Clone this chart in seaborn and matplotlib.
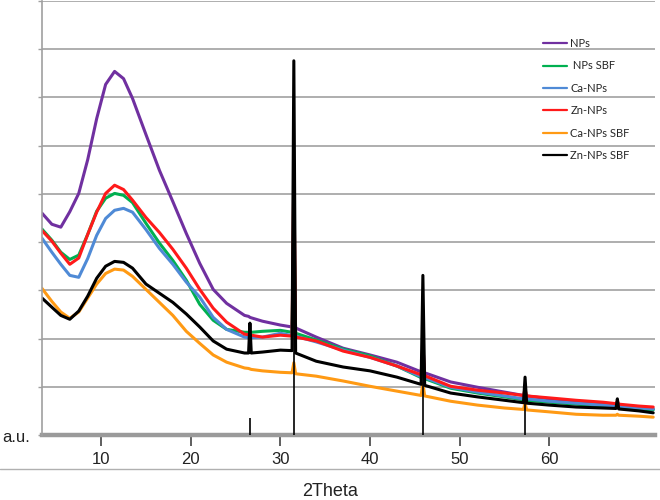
import numpy as np
import pandas as pd
import matplotlib
matplotlib.use("Agg")
import matplotlib.pyplot as plt
import seaborn as sns
from matplotlib.lines import Line2D

# ---------------- data ----------------
two_theta = [3.4, 4.5, 5.5, 6.5, 7.5, 8.5, 9.5, 10.5, 11.5, 12.5, 13.5, 15, 16.5, 18,
             19.5, 21, 22.5, 24, 26, 26.45, 26.6, 26.75, 28, 30, 31.3, 31.5, 31.7, 34,
             37, 40, 43, 45.7, 45.9, 46.1, 49, 52, 55, 57.12, 57.3, 57.48, 60, 63, 66,
             67.45, 67.6, 67.75, 70, 71.6]

nps = [4.60, 4.37, 4.31, 4.63, 5.01, 5.71, 6.56, 7.27, 7.54, 7.39, 6.98, 6.23, 5.49, 4.84,
       4.18, 3.56, 3.02, 2.73, 2.48, 2.46, 2.44, 2.43, 2.36, 2.28, 2.24, 2.80, 2.22, 2.03,
       1.80, 1.66, 1.51, 1.31, 1.50, 1.29, 1.10, 0.99, 0.89, 0.82, 0.86, 0.81, 0.75, 0.70,
       0.66, 0.63, 0.65, 0.62, 0.58, 0.54]

nps_sbf = [4.27, 4.04, 3.79, 3.64, 3.73, 4.16, 4.64, 4.91, 5.01, 4.97, 4.82, 4.39, 3.98, 3.62,
           3.21, 2.71, 2.38, 2.19, 2.13, 2.13, 2.13, 2.13, 2.15, 2.17, 2.13, 4.50, 2.11, 1.97,
           1.78, 1.64, 1.43, 1.19, 1.55, 1.17, 0.97, 0.87, 0.79, 0.73, 0.90, 0.72, 0.68, 0.64,
           0.60, 0.58, 0.60, 0.58, 0.54, 0.52]

ca_nps = [4.08, 3.79, 3.54, 3.31, 3.27, 3.66, 4.14, 4.49, 4.66, 4.70, 4.62, 4.26, 3.87, 3.54,
          3.17, 2.86, 2.44, 2.19, 2.03, 2.02, 2.01, 2.02, 2.03, 2.11, 2.06, 4.00, 2.05, 1.93,
          1.76, 1.61, 1.43, 1.21, 1.90, 1.19, 0.99, 0.89, 0.81, 0.75, 0.88, 0.75, 0.70, 0.66,
          0.62, 0.60, 0.62, 0.60, 0.56, 0.54]

zn_nps = [4.24, 4.02, 3.77, 3.54, 3.67, 4.16, 4.62, 5.01, 5.18, 5.09, 4.87, 4.51, 4.20, 3.85,
          3.46, 3.02, 2.63, 2.34, 2.09, 2.08, 2.07, 2.07, 2.03, 2.07, 2.05, 5.50, 2.03, 1.95,
          1.74, 1.61, 1.43, 1.25, 1.90, 1.23, 1.01, 0.93, 0.87, 0.82, 0.95, 0.81, 0.77, 0.72,
          0.68, 0.65, 0.70, 0.64, 0.60, 0.58]

ca_nps_sbf = [3.04, 2.77, 2.55, 2.42, 2.55, 2.84, 3.13, 3.35, 3.44, 3.42, 3.29, 3.02, 2.75, 2.48,
              2.15, 1.90, 1.66, 1.51, 1.39, 1.38, 1.37, 1.36, 1.33, 1.30, 1.29, 1.50, 1.27, 1.22,
              1.12, 1.01, 0.91, 0.82, 1.08, 0.81, 0.70, 0.62, 0.56, 0.53, 0.66, 0.52, 0.48, 0.43,
              0.41, 0.41, 0.43, 0.41, 0.39, 0.37]

zn_nps_sbf = [2.84, 2.65, 2.48, 2.40, 2.57, 2.88, 3.25, 3.50, 3.60, 3.58, 3.46, 3.13, 2.94, 2.75,
              2.51, 2.24, 1.95, 1.78, 1.70, 1.70, 2.32, 1.70, 1.72, 1.76, 1.75, 7.76, 1.70, 1.53,
              1.41, 1.33, 1.20, 1.05, 3.31, 1.03, 0.87, 0.79, 0.72, 0.67, 1.20, 0.66, 0.62, 0.58,
              0.56, 0.55, 0.75, 0.54, 0.50, 0.46]

sample_names = ["NPs", " NPs SBF", "Ca-NPs", "Zn-NPs", "Ca-NPs SBF", "Zn-NPs SBF"]
sample_colors = ["#7030A0", "#00B050", "#4F8AD6", "#FF1A1A", "#FF9A14", "#000000"]

stick_pos = [26.6, 31.5, 45.9, 57.3]
stick_height = [0.35, 7.76, 3.31, 1.20]

x_ticks = [10, 20, 30, 40, 50, 60]

# ---------------- build table ----------------
series = [nps, nps_sbf, ca_nps, zn_nps, ca_nps_sbf, zn_nps_sbf]
df = pd.concat(
    [pd.DataFrame({"2Theta": two_theta, "a.u.": vals, "sample": name})
     for name, vals in zip(sample_names, series)],
    ignore_index=True)

sns.set_style("white")
plt.rcParams["font.family"] = ["Liberation Sans", "DejaVu Sans"]

fig = plt.figure(figsize=(6.6, 5.0), dpi=100)
ax = fig.add_axes([42 / 660, 1 - 435 / 500, 613 / 660, 434 / 500])

sns.lineplot(data=df, x="2Theta", y="a.u.", hue="sample", hue_order=sample_names,
             palette=sample_colors, sort=False, estimator=None, linewidth=2.2, ax=ax)

ax.vlines(stick_pos, -0.08, stick_height, color="black", lw=1.2, zorder=6)

ax.set_xlim(3.4, 71.8)
ax.set_ylim(0, 9)
ax.set_xticks(x_ticks)
ax.set_xticklabels([str(t) for t in x_ticks])
ax.set_yticks(range(10))
ax.set_yticklabels([])
ax.set_xlabel("")
ax.set_ylabel("")
ax.grid(axis="y", color="#A8A8A8", lw=1.3)
ax.grid(axis="x", visible=False)
ax.set_axisbelow(True)

for s in ["top", "right"]:
    ax.spines[s].set_visible(False)
ax.spines["left"].set_color("#A0A0A0")
ax.spines["left"].set_linewidth(1.2)
ax.spines["bottom"].set_color("#9A9A9A")
ax.spines["bottom"].set_linewidth(3.2)
ax.spines["bottom"].set_zorder(1)

ax.tick_params(axis="y", left=True, length=3, width=1, color="#A0A0A0", direction="out")
ax.tick_params(axis="x", bottom=True, length=8, width=1.1, color="#333333",
               direction="out", labelsize=12, pad=4, labelcolor="#222222")

# legend
handles, labels = ax.get_legend_handles_labels()
leg = ax.legend(handles, labels, loc="upper left", bbox_to_anchor=(543 / 660, 1 - 38 / 500),
                bbox_transform=fig.transFigure, frameon=False, borderpad=0, borderaxespad=0,
                handlelength=2.2, handletextpad=0.25, labelspacing=1.03,
                prop={"family": "Lato", "size": 8})
for lh in leg.get_lines():
    lh.set_linewidth(1.6)

fig.text(30 / 660, 1 - 437 / 500, "a.u.", ha="right", va="center", fontsize=12,
         color="#222222")
fig.text(330 / 660, 1 - 491 / 500, "2Theta", ha="center", va="center", fontsize=13,
         color="#222222")
fig.add_artist(Line2D([0, 1], [1 - 469 / 500] * 2, color="#B0B0B0", lw=1,
                      transform=fig.transFigure))

fig.savefig("out.png", dpi=100)
